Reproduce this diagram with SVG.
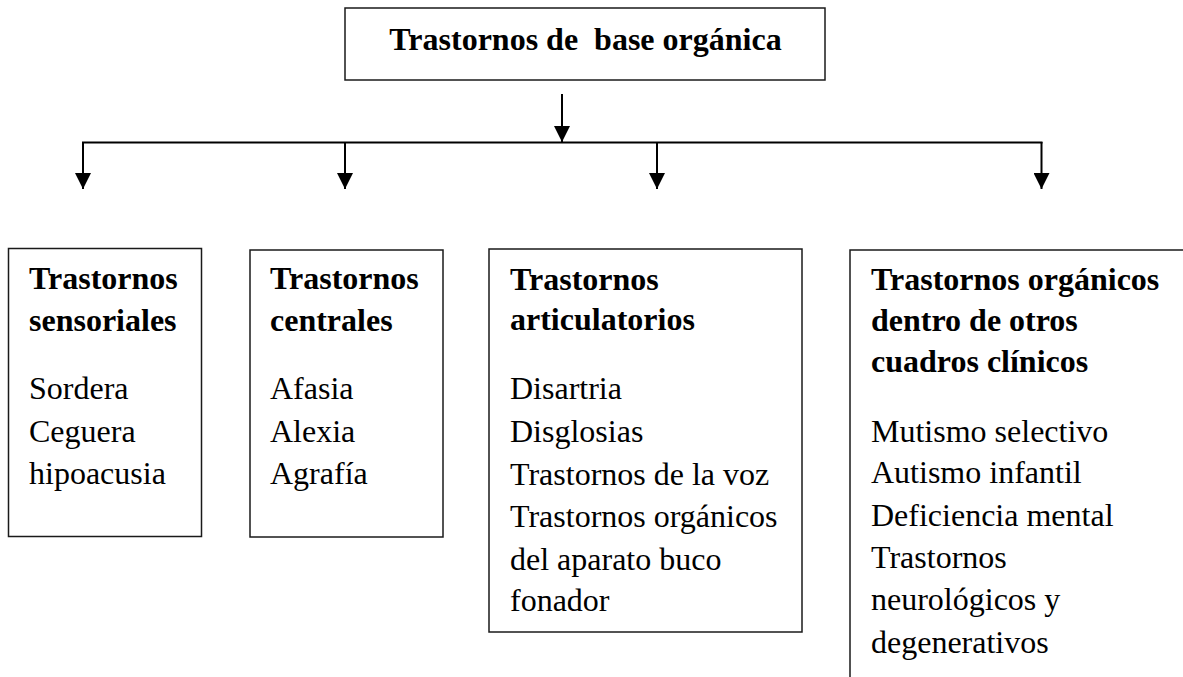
<svg xmlns="http://www.w3.org/2000/svg" width="1183" height="677" viewBox="0 0 1183 677">
<style>
.box{fill:#fff;stroke:#1a1a1a;stroke-width:1.5}
.h{font-family:"Liberation Serif","Times New Roman",serif;font-weight:bold;font-size:32px;fill:#000;white-space:pre}
.t{font-family:"Liberation Serif","Times New Roman",serif;font-size:32px;fill:#000}
.c{fill:none;stroke:#000;stroke-width:2}
</style>
<defs>
<marker id="ah" markerUnits="userSpaceOnUse" markerWidth="16" markerHeight="16" refX="16" refY="8" orient="auto">
<path d="M0,0 L16,8 L0,16 z" fill="#000"/>
</marker>
</defs>
<rect width="1183" height="677" fill="#fff"/>
<g id="connectors">
<line class="c" x1="562" y1="94" x2="562" y2="142" marker-end="url(#ah)"/>
<line class="c" x1="82" y1="142.5" x2="1042.5" y2="142.5"/>
<line class="c" x1="83" y1="142" x2="83" y2="189" marker-end="url(#ah)"/>
<line class="c" x1="345" y1="142" x2="345" y2="189" marker-end="url(#ah)"/>
<line class="c" x1="657" y1="142" x2="657" y2="189" marker-end="url(#ah)"/>
<line class="c" x1="1041.5" y1="142" x2="1041.5" y2="189" marker-end="url(#ah)"/>
</g>
<g id="root">
<rect class="box" x="345" y="8" width="480" height="72"/>
<text class="h" x="585.5" y="50" text-anchor="middle">Trastornos de  base orgánica</text>
</g>
<g id="sensoriales">
<rect class="box" x="8.5" y="248.5" width="193" height="288"/>
<text class="h" x="29" y="289">Trastornos</text>
<text class="h" x="29" y="331">sensoriales</text>
<text class="t" x="29" y="399">Sordera</text>
<text class="t" x="29" y="442">Ceguera</text>
<text class="t" x="29" y="484">hipoacusia</text>
</g>
<g id="centrales">
<rect class="box" x="250" y="250" width="193" height="287"/>
<text class="h" x="270" y="289">Trastornos</text>
<text class="h" x="270" y="331">centrales</text>
<text class="t" x="270" y="399">Afasia</text>
<text class="t" x="270" y="442">Alexia</text>
<text class="t" x="270" y="484">Agrafía</text>
</g>
<g id="articulatorios">
<rect class="box" x="489" y="249" width="313" height="383"/>
<text class="h" x="510" y="290">Trastornos</text>
<text class="h" x="510" y="330">articulatorios</text>
<text class="t" x="510" y="399">Disartria</text>
<text class="t" x="510" y="442">Disglosias</text>
<text class="t" x="510" y="485">Trastornos de la voz</text>
<text class="t" x="510" y="527">Trastornos orgánicos</text>
<text class="t" x="510" y="570">del aparato buco</text>
<text class="t" x="510" y="611">fonador</text>
</g>
<g id="otros">
<rect class="box" x="850" y="250" width="400" height="500"/>
<text class="h" x="871" y="290">Trastornos orgánicos</text>
<text class="h" x="871" y="331">dentro de otros</text>
<text class="h" x="871" y="372">cuadros clínicos</text>
<text class="t" x="871" y="442">Mutismo selectivo</text>
<text class="t" x="871" y="483">Autismo infantil</text>
<text class="t" x="871" y="526">Deficiencia mental</text>
<text class="t" x="871" y="568">Trastornos</text>
<text class="t" x="871" y="610">neurológicos y</text>
<text class="t" x="871" y="653">degenerativos</text>
</g>
</svg>
